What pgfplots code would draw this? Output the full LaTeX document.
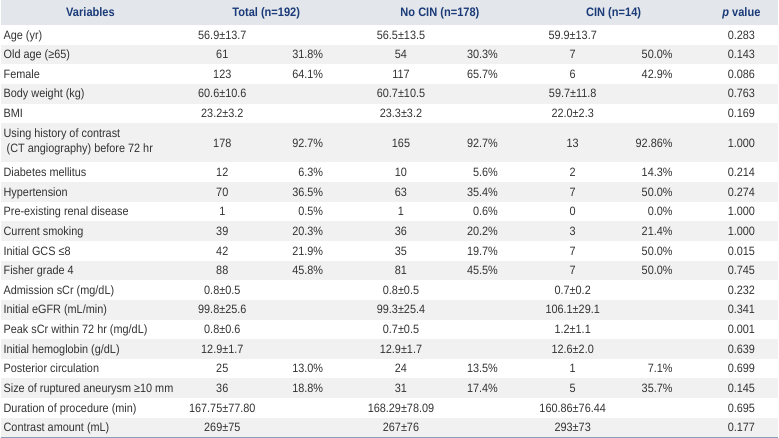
\documentclass[border=0pt]{standalone}
\usepackage{pgfplots}
\pgfplotsset{compat=1.18}
\usepackage{fontspec}
\setmainfont{Liberation Sans}[FakeStretch=0.9]
\definecolor{txt}{HTML}{333333}
\definecolor{hdr}{HTML}{1A3A78}
\definecolor{hdrbg}{HTML}{E3E6EB}
\definecolor{rowbg}{HTML}{F1F1F1}
\definecolor{rule}{HTML}{8B9DBB}
\newcommand\yc[1]{25+19.67*(#1+0.5)+4.3}
\newcommand\band[1]{\fill[rowbg] (axis cs:0,{25+19.67*#1}) rectangle (axis cs:779,{25+19.67*(#1+1)});}
\newcommand\R[9]{%
  \node[anchor=base west] at (axis cs:3,{\yc{#1}}) {#2};
  \node[anchor=base] at (axis cs:222,{\yc{#1}}) {#3};
  \node[anchor=base east] at (axis cs:323,{\yc{#1}}) {#4};
  \node[anchor=base] at (axis cs:401,{\yc{#1}}) {#5};
  \node[anchor=base east] at (axis cs:498,{\yc{#1}}) {#6};
  \node[anchor=base] at (axis cs:573,{\yc{#1}}) {#7};
  \node[anchor=base east] at (axis cs:673,{\yc{#1}}) {#8};
  \node[anchor=base] at (axis cs:742,{\yc{#1}}) {#9};
}
\begin{document}
\begin{tikzpicture}[every node/.style={inner sep=0pt, outer sep=0pt, font=\fontsize{12.1}{15}\selectfont, text=txt}]
\begin{axis}[
  scale only axis, width=779pt, height=441pt,
  xmin=0, xmax=779, ymin=0, ymax=441, y dir=reverse,
  axis lines=none, ticks=none, clip=false]
\fill[hdrbg] (axis cs:0,0) rectangle (axis cs:779,25);
\band{1}\band{3}\band{5}\band{6}\band{8}\band{10}\band{12}\band{14}\band{16}\band{18}\band{20}
\draw[rule, line width=1.3pt] (axis cs:0,438) -- (axis cs:779,438);
% header
\node[anchor=base, font=\fontsize{12.3}{15}\selectfont\bfseries, text=hdr] at (axis cs:90,16.8) {Variables};
\node[anchor=base, font=\fontsize{12.3}{15}\selectfont\bfseries, text=hdr] at (axis cs:266,16.8) {Total (n=192)};
\node[anchor=base, font=\fontsize{12.3}{15}\selectfont\bfseries, text=hdr] at (axis cs:440,16.8) {No CIN (n=178)};
\node[anchor=base, font=\fontsize{12.3}{15}\selectfont\bfseries, text=hdr] at (axis cs:614,16.8) {CIN (n=14)};
\node[anchor=base, font=\fontsize{12.3}{15}\selectfont\bfseries, text=hdr] at (axis cs:742,16.8) {\itshape p\upshape\ value};
% rows
\R{0}{Age (yr)}{56.9±13.7}{}{56.5±13.5}{}{59.9±13.7}{}{0.283}
\R{1}{Old age (≥65)}{61}{31.8\%}{54}{30.3\%}{7}{50.0\%}{0.143}
\R{2}{Female}{123}{64.1\%}{117}{65.7\%}{6}{42.9\%}{0.086}
\R{3}{Body weight (kg)}{60.6±10.6}{}{60.7±10.5}{}{59.7±11.8}{}{0.763}
\R{4}{BMI}{23.2±3.2}{}{23.3±3.2}{}{22.0±2.3}{}{0.169}
\R{5.5}{}{178}{92.7\%}{165}{92.7\%}{13}{92.86\%}{1.000}
\node[anchor=base west] at (axis cs:3,{25+19.67*5+14.5}) {Using history of contrast};
\node[anchor=base west] at (axis cs:3,{25+19.67*5+29.5}) {\ (CT angiography) before 72 hr};
\R{7}{Diabetes mellitus}{12}{6.3\%}{10}{5.6\%}{2}{14.3\%}{0.214}
\R{8}{Hypertension}{70}{36.5\%}{63}{35.4\%}{7}{50.0\%}{0.274}
\R{9}{Pre-existing renal disease}{1}{0.5\%}{1}{0.6\%}{0}{0.0\%}{1.000}
\R{10}{Current smoking}{39}{20.3\%}{36}{20.2\%}{3}{21.4\%}{1.000}
\R{11}{Initial GCS ≤8}{42}{21.9\%}{35}{19.7\%}{7}{50.0\%}{0.015}
\R{12}{Fisher grade 4}{88}{45.8\%}{81}{45.5\%}{7}{50.0\%}{0.745}
\R{13}{Admission sCr (mg/dL)}{0.8±0.5}{}{0.8±0.5}{}{0.7±0.2}{}{0.232}
\R{14}{Initial eGFR (mL/min)}{99.8±25.6}{}{99.3±25.4}{}{106.1±29.1}{}{0.341}
\R{15}{Peak sCr within 72 hr (mg/dL)}{0.8±0.6}{}{0.7±0.5}{}{1.2±1.1}{}{0.001}
\R{16}{Initial hemoglobin (g/dL)}{12.9±1.7}{}{12.9±1.7}{}{12.6±2.0}{}{0.639}
\R{17}{Posterior circulation}{25}{13.0\%}{24}{13.5\%}{1}{7.1\%}{0.699}
\R{18}{Size of ruptured aneurysm ≥10 mm}{36}{18.8\%}{31}{17.4\%}{5}{35.7\%}{0.145}
\R{19}{Duration of procedure (min)}{167.75±77.80}{}{168.29±78.09}{}{160.86±76.44}{}{0.695}
\R{20}{Contrast amount (mL)}{269±75}{}{267±76}{}{293±73}{}{0.177}
\end{axis}
\end{tikzpicture}
\end{document}
